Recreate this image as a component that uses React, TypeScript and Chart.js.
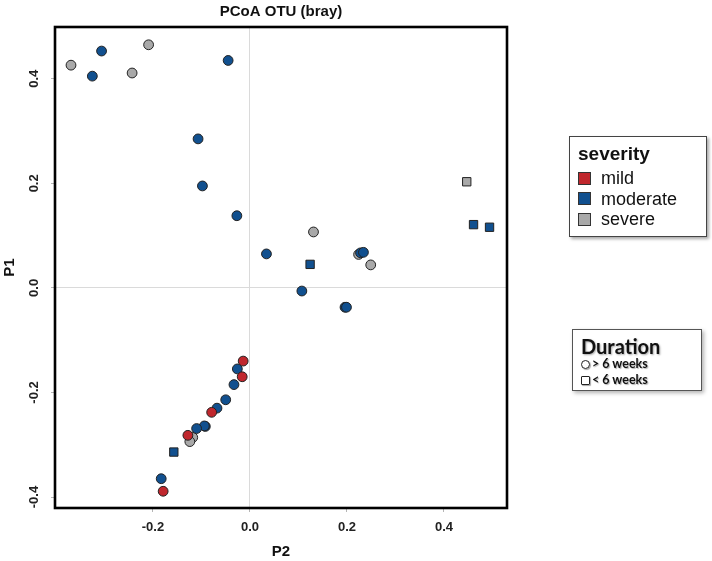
import React, { useEffect, useRef } from "react";
import { Chart, registerables } from "chart.js";

Chart.register(...registerables);

// ---- data (x = P2, y = P1) ----
const mildCircleX = [-0.014, -0.016, -0.079, -0.128, -0.179];
const mildCircleY = [-0.14, -0.17, -0.238, -0.282, -0.389];

const moderateCircleX = [-0.325, -0.306, -0.045, -0.107, -0.098, -0.027, 0.034, 0.228, 0.234, 0.107, 0.196, 0.199, -0.026, -0.033, -0.05, -0.068, -0.092, -0.094, -0.11, -0.183];
const moderateCircleY = [0.405, 0.453, 0.435, 0.285, 0.195, 0.138, 0.065, 0.067, 0.068, -0.006, -0.037, -0.037, -0.155, -0.185, -0.214, -0.23, -0.265, -0.264, -0.269, -0.365];

const moderateSquareX = [0.124, 0.461, 0.494, -0.157];
const moderateSquareY = [0.045, 0.121, 0.116, -0.314];

const severeCircleX = [-0.369, -0.243, -0.209, 0.131, 0.224, 0.249, -0.118, -0.124];
const severeCircleY = [0.426, 0.411, 0.465, 0.107, 0.064, 0.044, -0.286, -0.294];

const severeSquareX = [0.447];
const severeSquareY = [0.203];

const xTicks = [-0.2, 0.0, 0.2, 0.4];
const yTicks = [-0.4, -0.2, 0.0, 0.2, 0.4];

const severityLabels = ["mild", "moderate", "severe"];
const severityColors = ["#C0272D", "#11508F", "#A9A9A9"];
const durationLabels = ["> 6 weeks", "< 6 weeks"];

const FONT = '"Liberation Sans", Arial, Helvetica, sans-serif';

function pts(xs: number[], ys: number[]) {
  return xs.map((x, i) => ({ x, y: ys[i] }));
}

export default function App() {
  const ref = useRef<HTMLCanvasElement | null>(null);

  useEffect(() => {
    document.body.style.margin = "0";
    const canvas = ref.current;
    if (!canvas) return;

    const mk = (label: string, xs: number[], ys: number[], color: string, style: "circle" | "rect") => ({
      label,
      data: pts(xs, ys),
      backgroundColor: color,
      borderColor: "#222",
      borderWidth: 1,
      pointStyle: style,
      pointRadius: style === "circle" ? 4.9 : 5.9,
    });

    const framePlugin = {
      id: "frame",
      beforeDatasetsDraw(chart: any) {
        const { left, top, right, bottom } = chart.chartArea;
        const ctx = chart.ctx;
        ctx.save();
        ctx.strokeStyle = "#000";
        ctx.lineWidth = 2.6;
        ctx.strokeRect(left, top, right - left, bottom - top);
        ctx.restore();
      },
    };

    const zeroGrid = (c: any) => (c.tick && c.tick.value === 0 ? "#dadada" : "rgba(0,0,0,0)");

    const chart = new Chart(canvas, {
      type: "scatter",
      data: {
        datasets: [
          mk("mild >6", mildCircleX, mildCircleY, severityColors[0], "circle"),
          mk("moderate >6", moderateCircleX, moderateCircleY, severityColors[1], "circle"),
          mk("moderate <6", moderateSquareX, moderateSquareY, severityColors[1], "rect"),
          mk("severe >6", severeCircleX, severeCircleY, severityColors[2], "circle"),
          mk("severe <6", severeSquareX, severeSquareY, severityColors[2], "rect"),
        ] as any,
      },
      options: {
        animation: false,
        responsive: false,
        devicePixelRatio: 1,
        layout: { padding: { left: 0, top: 0, right: 205, bottom: 0 } },
        plugins: {
          legend: { display: false },
          tooltip: { enabled: false },
          title: {
            display: true,
            text: "PCoA OTU (bray)",
            fullSize: false,
            color: "#111",
            font: { family: FONT, size: 15, weight: "bold" },
            padding: { top: 3, bottom: 6 },
          } as any,
        },
        scales: {
          x: {
            type: "linear",
            min: -0.402,
            max: 0.53,
            afterBuildTicks: (s: any) => {
              s.ticks = xTicks.map((v) => ({ value: v }));
            },
            afterFit: (s: any) => {
              s.height = 53;
            },
            border: { display: false },
            grid: { color: zeroGrid, drawTicks: true, tickLength: 4, tickColor: "#b5b5b5", lineWidth: 1 },
            ticks: {
              padding: 8,
              color: "#222",
              font: { family: FONT, size: 13, weight: "bold" },
              callback: (v: any) => Number(v).toFixed(1),
            },
            title: {
              display: true,
              text: "P2",
              color: "#111",
              font: { family: FONT, size: 15, weight: "bold" },
              padding: { top: 0, bottom: 0 },
            },
          },
          y: {
            type: "linear",
            min: -0.421,
            max: 0.499,
            afterBuildTicks: (s: any) => {
              s.ticks = yTicks.map((v) => ({ value: v }));
            },
            afterFit: (s: any) => {
              s.width = 55;
            },
            border: { display: false },
            grid: { color: zeroGrid, drawTicks: true, tickLength: 4, tickColor: "#b5b5b5", lineWidth: 1 },
            ticks: {
              padding: 5,
              minRotation: 90,
              maxRotation: 90,
              crossAlign: "center",
              color: "#222",
              font: { family: FONT, size: 13, weight: "bold" },
              callback: (v: any) => Number(v).toFixed(1),
            },
            title: {
              display: true,
              text: "P1",
              color: "#111",
              font: { family: FONT, size: 15, weight: "bold" },
              padding: { top: 1, bottom: 0 },
            },
          } as any,
        },
      },
      plugins: [framePlugin],
    });
    return () => chart.destroy();
  }, []);

  return (
    <div style={{ position: "relative", width: 712, height: 561, background: "#fff", overflow: "hidden" }}>
      <canvas ref={ref} width={712} height={561} style={{ display: "block" }} />
      {/* severity legend */}
      <div
        style={{
          position: "absolute",
          left: 569,
          top: 136,
          width: 136,
          height: 99,
          border: "1px solid #444",
          boxShadow: "2px 2px 3px rgba(0,0,0,0.35)",
          background: "#fff",
          fontFamily: FONT,
          color: "#111",
        }}
      >
        <div style={{ position: "absolute", left: 8, top: 6, fontSize: 19, fontWeight: "bold", lineHeight: "22px" }}>severity</div>
        {severityLabels.map((lab, i) => (
          <div key={lab} style={{ position: "absolute", left: 8, top: 32 + i * 20.5, height: 18, display: "flex", alignItems: "center" }}>
            <span style={{ width: 11, height: 11, background: severityColors[i], border: "1px solid #333", display: "inline-block" }} />
            <span style={{ marginLeft: 10, fontSize: 18, lineHeight: "18px" }}>{lab}</span>
          </div>
        ))}
      </div>
      {/* duration legend */}
      <div
        style={{
          position: "absolute",
          left: 572,
          top: 329,
          width: 128,
          height: 60,
          border: "1px solid #555",
          boxShadow: "2px 2px 4px rgba(0,0,0,0.3)",
          background: "#fff",
          fontFamily: "Lato, sans-serif",
          color: "#111",
        }}
      >
        <div style={{ position: "absolute", left: 8, top: 4, fontSize: 20, fontWeight: "bold", lineHeight: "24px", textShadow: "1px 1px 2px rgba(0,0,0,0.35)" }}>Duration</div>
        {durationLabels.map((lab, i) => (
          <div key={lab} style={{ position: "absolute", left: 8, top: 27 + i * 16, height: 14, display: "flex", alignItems: "center", textShadow: "1px 1px 1px rgba(0,0,0,0.3)" }}>
            <span
              style={{
                width: 7,
                height: 7,
                border: "1px solid #222",
                borderRadius: i === 0 ? "50%" : 1,
                display: "inline-block",
                boxShadow: "1px 1px 1px rgba(0,0,0,0.35)",
              }}
            />
            <span style={{ marginLeft: 2, fontSize: 12.5, fontWeight: "bold", lineHeight: "14px" }}>{lab}</span>
          </div>
        ))}
      </div>
    </div>
  );
}
